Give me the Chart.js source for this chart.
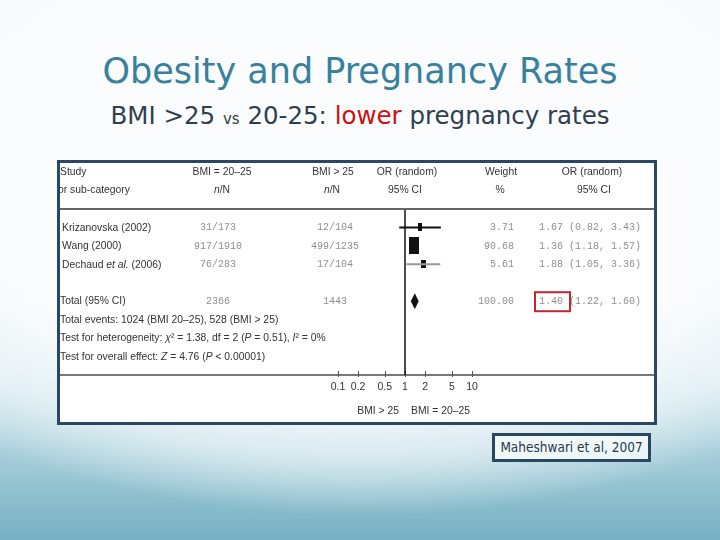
<!DOCTYPE html>
<html>
<head>
<meta charset="utf-8">
<title>Obesity and Pregnancy Rates</title>
<script src="https://cdn.jsdelivr.net/npm/chart.js@4.4.1/dist/chart.umd.min.js"></script>
<style>
    html, body {
        margin: 0;
        padding: 0;
    }
    body {
        width: 720px;
        height: 540px;
        position: relative;
        overflow: hidden;
        font-family: "DejaVu Sans", sans-serif;
        background:
            radial-gradient(ellipse 640px 350px at 360px 165px, rgba(250, 252, 253, 1) 0%, rgba(250, 252, 253, 1) 62%, rgba(236, 245, 248, 0.7) 84%, rgba(236, 245, 248, 0) 100%),
            linear-gradient(to bottom, #fafcfd 0%, #f2f8fa 50%, #d9eaf0 68%, #a9cfdb 83%, #76b0c3 100%);
    }
    .title {
        position: absolute;
        left: 0;
        width: 720px;
        top: 51px;
        text-align: center;
        font-size: 35px;
        color: #38819e;
        white-space: nowrap;
    }
    .subtitle {
        position: absolute;
        left: 0;
        width: 720px;
        top: 101px;
        text-align: center;
        font-size: 24.5px;
        color: #2f3f4f;
        white-space: nowrap;
    }
    .subtitle .vs { font-size: 15px; }
    .subtitle .red { color: #cc1111; }
    .panel {
        position: absolute;
        left: 57px;
        top: 160px;
        width: 600px;
        height: 265px;
        box-sizing: border-box;
        border: 3px solid #2b4863;
        background: #fff;
    }
    .panel canvas {
        position: absolute;
        left: 0;
        top: 0;
    }
    .cite {
        position: absolute;
        left: 492px;
        top: 433px;
        width: 159px;
        height: 29px;
        box-sizing: border-box;
        border: 3px solid #2b4863;
        background: rgba(245, 250, 252, 0.85);
        color: #2b3a4a;
        font-family: "DejaVu Sans Condensed", "DejaVu Sans", sans-serif;
        font-size: 13.5px;
        line-height: 23px;
        text-align: center;
        white-space: nowrap;
    }
</style>
</head>
<body>
<div class="title">Obesity and Pregnancy Rates</div>
<div class="subtitle">BMI &gt;25 <span class="vs">vs</span> 20-25: <span class="red">lower</span> pregnancy rates</div>
<div class="panel">
    <div style="position:absolute;left:0;top:0;width:594px;height:259px;">
        <canvas id="forestChart"></canvas>
    </div>
</div>
<div class="cite">Maheshwari et al, 2007</div>

<script>
    'use strict';

    // study data (Maheshwari et al, 2007)
    const studies = ['Krizanovska (2002)', 'Wang (2000)', 'Dechaud et al. (2006)'];
    const normalEvents = [31, 917, 76];
    const normalTotal = [173, 1910, 283];
    const obeseEvents = [12, 499, 17];
    const obeseTotal = [104, 1235, 104];
    const weights = [3.71, 90.68, 5.61];
    const orEst = [1.67, 1.36, 1.88];
    const orLow = [0.82, 1.18, 1.05];
    const orHigh = [3.43, 1.57, 3.36];
    const studyRows = [1, 2, 3];

    // pooled estimate: OR, lower, upper
    const pooledOR = [1.40, 1.22, 1.60];
    const totalRow = 5;

    const tickValues = [0.1, 0.2, 0.5, 1, 2, 5, 10];
    const ciColors = ['#111', '#111', '#999'];

    const sum = (arr) => arr.reduce((a, b) => a + b, 0);

    const SANS = '"Liberation Sans", Arial, sans-serif';
    const MONO = '"Liberation Mono", "DejaVu Sans Mono", monospace';
    const SQUEEZE = 0.9;
    const FS = 11.5;

    // little rectangles sized by study weight
    function weightMarker(w) {
        const c = document.createElement('canvas');
        c.width = Math.round(3 + 0.75 * Math.sqrt(w));
        c.height = Math.round(5 + 1.3 * Math.sqrt(w));
        const g = c.getContext('2d');
        g.fillStyle = '#111';
        g.fillRect(0, 0, c.width, c.height);
        return c;
    }

    // narrow text made of plain / italic pieces
    function drawParts(ctx, parts, x, y, align) {
        let total = 0;
        parts.forEach(([txt, italic]) => {
            ctx.font = (italic ? 'italic ' : '') + FS + 'px ' + SANS;
            total += ctx.measureText(txt).width;
        });
        let start = x;
        if (align === 'center') start = x - total * SQUEEZE / 2;
        if (align === 'right') start = x - total * SQUEEZE;
        ctx.save();
        ctx.translate(start, y);
        ctx.scale(SQUEEZE, 1);
        ctx.textAlign = 'left';
        let cx = 0;
        parts.forEach(([txt, italic]) => {
            ctx.font = (italic ? 'italic ' : '') + FS + 'px ' + SANS;
            ctx.fillText(txt, cx, 0);
            cx += ctx.measureText(txt).width;
        });
        ctx.restore();
    }

    const text = (ctx, s, x, y, align) => drawParts(ctx, [[s, false]], x, y, align);

    function studyParts(name) {
        const i = name.indexOf('et al.');
        if (i < 0) return [[name, false]];
        return [[name.slice(0, i), false], ['et al.', true], [name.slice(i + 6), false]];
    }

    function monoText(ctx, s, x, y, align) {
        ctx.fillStyle = '#8f8f8f';
        ctx.font = '10px ' + MONO;
        ctx.textAlign = align;
        ctx.fillText(s, x, y);
    }

    const forestText = {
        id: 'forestText',
        beforeDatasetsDraw(chart) {
            const ctx = chart.ctx;
            const xs = chart.scales.x;
            const y0 = chart.chartArea.bottom;

            // axis line runs across the whole panel, ticks cross it
            ctx.save();
            ctx.strokeStyle = '#777';
            ctx.lineWidth = 2;
            ctx.beginPath();
            ctx.moveTo(0, y0);
            ctx.lineTo(chart.width, y0);
            ctx.stroke();
            ctx.strokeStyle = '#555';
            ctx.lineWidth = 1;
            tickValues.forEach((v) => {
                const px = Math.round(xs.getPixelForValue(v)) + 0.5;
                ctx.beginPath();
                ctx.moveTo(px, y0 - 4);
                ctx.lineTo(px, y0 + 2);
                ctx.stroke();
            });
            ctx.restore();
        },
        afterDraw(chart) {
            const ctx = chart.ctx;
            const xs = chart.scales.x;
            const ys = chart.scales.y;
            const area = chart.chartArea;

            ctx.save();
            ctx.textBaseline = 'middle';

            // header separator
            ctx.strokeStyle = '#666';
            ctx.lineWidth = 2;
            ctx.beginPath();
            ctx.moveTo(0, area.top);
            ctx.lineTo(chart.width, area.top);
            ctx.stroke();

            // header
            ctx.fillStyle = '#333';
            text(ctx, 'Study', 0, 9, 'left');
            text(ctx, 'or sub-category', -2, 27, 'left');
            text(ctx, 'BMI = 20\u201325', 162, 9, 'center');
            text(ctx, 'BMI > 25', 273, 9, 'center');
            text(ctx, 'OR (random)', 347, 9, 'center');
            text(ctx, '95% CI', 345, 27, 'center');
            text(ctx, 'Weight', 441, 9, 'center');
            text(ctx, '%', 440, 27, 'center');
            text(ctx, 'OR (random)', 532, 9, 'center');
            text(ctx, '95% CI', 534, 27, 'center');
            [162, 272].forEach((cx) => {
                drawParts(ctx, [['n', true], ['/N', false]], cx, 27, 'center');
            });

            // study rows
            studies.forEach((name, i) => {
                const y = ys.getPixelForValue(studyRows[i]);
                ctx.fillStyle = '#333';
                drawParts(ctx, studyParts(name), 2, y, 'left');
                monoText(ctx, normalEvents[i] + '/' + normalTotal[i], 158, y, 'center');
                monoText(ctx, obeseEvents[i] + '/' + obeseTotal[i], 275, y, 'center');
                monoText(ctx, weights[i].toFixed(2), 454, y, 'right');
                monoText(ctx, orEst[i].toFixed(2) + ' (' + orLow[i].toFixed(2) + ', ' + orHigh[i].toFixed(2) + ')', 479, y, 'left');
            });

            // total row
            const ty = ys.getPixelForValue(totalRow);
            ctx.fillStyle = '#333';
            text(ctx, 'Total (95% CI)', 0, ty, 'left');
            monoText(ctx, String(sum(normalTotal)), 158, ty, 'center');
            monoText(ctx, String(sum(obeseTotal)), 275, ty, 'center');
            monoText(ctx, sum(weights).toFixed(2), 454, ty, 'right');
            monoText(ctx, pooledOR[0].toFixed(2) + ' (' + pooledOR[1].toFixed(2) + ', ' + pooledOR[2].toFixed(2) + ')', 479, ty, 'left');

            // highlight on pooled OR
            ctx.strokeStyle = '#c0282d';
            ctx.lineWidth = 2;
            ctx.strokeRect(475, ty - 9, 35, 19);

            // pooled diamond
            const dl = xs.getPixelForValue(pooledOR[1]);
            const dc = xs.getPixelForValue(pooledOR[0]);
            const dr = xs.getPixelForValue(pooledOR[2]);
            ctx.fillStyle = '#111';
            ctx.beginPath();
            ctx.moveTo(dl, ty);
            ctx.lineTo(dc, ty - 8);
            ctx.lineTo(dr, ty);
            ctx.lineTo(dc, ty + 8);
            ctx.closePath();
            ctx.fill();

            // summary lines
            ctx.fillStyle = '#333';
            text(ctx, 'Total events: ' + sum(normalEvents) + ' (BMI 20\u201325), ' + sum(obeseEvents) + ' (BMI > 25)', 0, ys.getPixelForValue(totalRow + 1), 'left');
            drawParts(ctx, [['Test for heterogeneity: ', false], ['\u03C7', true], ['\u00B2 = 1.38, df = 2 (', false], ['P', true], [' = 0.51), ', false], ['I', true], ['\u00B2 = 0%', false]], 0, ys.getPixelForValue(totalRow + 2), 'left');
            drawParts(ctx, [['Test for overall effect: ', false], ['Z', true], [' = 4.76 (', false], ['P', true], [' < 0.00001)', false]], 0, ys.getPixelForValue(totalRow + 3), 'left');

            // favours labels
            const x1 = xs.getPixelForValue(1);
            text(ctx, 'BMI > 25', x1 - 6, 248, 'right');
            text(ctx, 'BMI = 20\u201325', x1 + 6, 248, 'left');

            ctx.restore();
        }
    };

    const datasets = [];

    // line of no effect
    datasets.push({
        type: 'line',
        data: [{ x: 1, y: 0 }, { x: 1, y: 9 }],
        borderColor: '#111',
        borderWidth: 1.5,
        pointRadius: 0
    });

    // confidence intervals
    studies.forEach((name, i) => {
        datasets.push({
            type: 'line',
            data: [{ x: orLow[i], y: studyRows[i] }, { x: orHigh[i], y: studyRows[i] }],
            borderColor: ciColors[i],
            borderWidth: 2,
            pointRadius: 0
        });
    });

    // point estimates
    datasets.push({
        type: 'scatter',
        data: orEst.map((v, i) => ({ x: v, y: studyRows[i] })),
        pointStyle: weights.map(weightMarker),
        pointRadius: 5,
        backgroundColor: '#111',
        borderWidth: 0
    });

    new Chart(document.getElementById('forestChart'), {
        type: 'scatter',
        data: { datasets: datasets },
        options: {
            responsive: true,
            maintainAspectRatio: false,
            animation: false,
            layout: { autoPadding: false, padding: { top: 46, left: 0, right: 0, bottom: 0 } },
            plugins: {
                legend: { display: false },
                tooltip: { enabled: false }
            },
            scales: {
                x: {
                    type: 'logarithmic',
                    position: 'bottom',
                    min: 7.1e-6,
                    max: 5200,
                    border: { display: false },
                    grid: { display: false, drawTicks: false },
                    ticks: {
                        autoSkip: false,
                        maxRotation: 0,
                        padding: 6,
                        color: '#333',
                        font: { family: SANS, size: 10.5 },
                        callback: (v) => tickValues.includes(v) ? String(v) : ''
                    },
                    afterBuildTicks: (scale) => {
                        scale.ticks = tickValues.map((v) => ({ value: v }));
                    },
                    afterFit: (scale) => {
                        scale.height = 47;
                        scale.paddingLeft = 0;
                        scale.paddingRight = 0;
                    }
                },
                y: {
                    type: 'linear',
                    display: false,
                    reverse: true,
                    min: 0,
                    max: 9
                }
            }
        },
        plugins: [forestText]
    });
</script>
</body>
</html>
